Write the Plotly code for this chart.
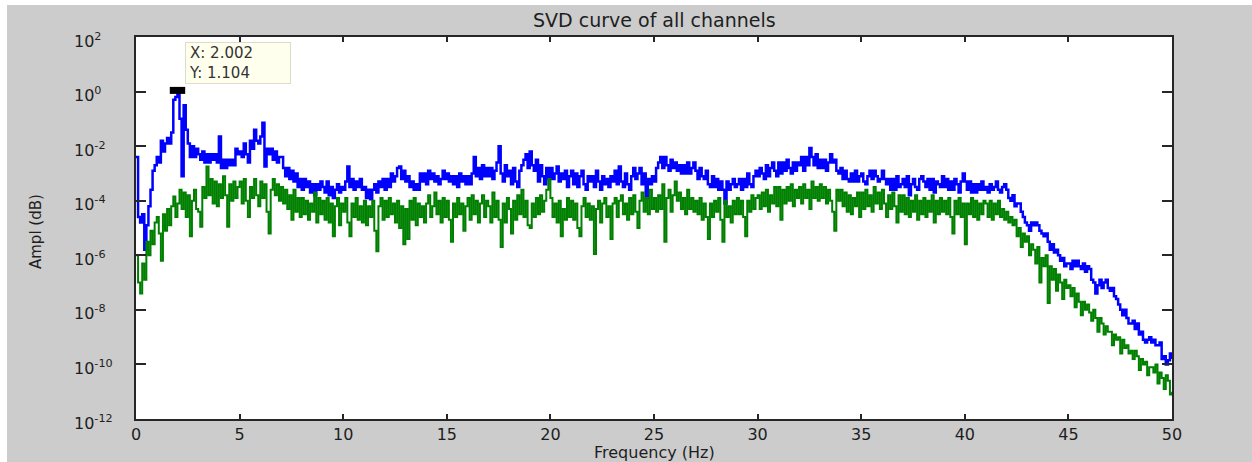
import plotly.graph_objects as go

# ---------------- data ----------------
freq_step = 0.1
freq_hz = [round(i * freq_step, 1) for i in range(501)]

# log10 of amplitude, blue curve, 0.0 .. 50.0 Hz every 0.1 Hz
blue_log10 = [
    -2.4, -4.6, -4.8, -4.5, -5.8, -4.9, -4.2, -3.6, -2.9, -2.7,
    -2.4, -2.6, -1.8, -2.2, -1.9, -1.7, -1.9, -1.5, -0.3, -0.2,
    0.04, -1.0, -3.1, -0.5, -1.4, -1.9, -2.4, -2.0, -2.4, -2.1,
    -2.3, -2.5, -2.2, -2.6, -2.3, -2.6, -2.3, -2.5, -2.3, -2.6,
    -1.65, -2.8, -2.5, -2.8, -2.5, -2.7, -2.5, -2.7, -2.1, -2.3,
    -2.2, -2.4, -1.9, -2.3, -2.6, -1.8, -2.1, -1.4, -1.8, -1.9,
    -1.65, -1.14, -2.75, -2.1, -2.3, -2.1, -2.5, -2.2, -2.6, -2.4,
    -2.4, -2.8, -3.1, -2.8, -3.2, -2.9, -3.3, -3.0, -3.5, -3.2,
    -3.6, -3.2, -3.5, -3.3, -3.7, -3.4, -3.8, -3.4, -3.6, -3.3,
    -3.5, -3.7, -3.3, -3.8, -3.5, -3.9, -3.6, -3.4, -3.7, -3.5,
    -3.6, -3.3, -2.75, -3.5, -3.2, -3.6, -3.3, -3.5, -3.2, -3.6,
    -3.5, -3.9, -3.6, -3.95, -3.6, -3.4, -3.7, -3.3, -3.5, -3.2,
    -3.6, -3.2, -3.5, -3.0, -3.3, -3.1, -2.8, -2.75, -3.2, -2.9,
    -3.3, -3.1, -3.5, -3.3, -3.6, -3.4, -3.6, -3.0, -3.3, -3.0,
    -3.4, -2.9, -3.2, -3.0, -3.3, -3.1, -3.4, -3.2, -2.9, -3.2,
    -3.0, -3.3, -3.1, -3.4, -3.1, -3.5, -3.0, -3.3, -3.1, -3.4,
    -3.1, -3.4, -3.0, -2.4, -3.1, -2.8, -3.2, -2.7, -3.1, -2.8,
    -3.1, -2.8, -3.2, -2.9, -2.6, -2.0, -3.0, -3.3, -2.7, -3.1,
    -2.9, -3.4, -2.8, -3.3, -3.5, -2.9, -2.7, -2.5, -2.3, -2.8,
    -2.2, -2.7, -2.9, -2.5, -3.3, -2.7, -3.1, -3.4, -2.8, -3.2,
    -2.8, -3.2, -3.0, -2.75, -3.3, -3.0, -3.2, -2.9, -3.5, -3.1,
    -2.9, -3.4, -3.0, -3.5, -3.1, -2.9, -3.4, -3.6, -3.1, -3.3,
    -3.1, -3.5, -2.9, -3.3, -3.6, -3.1, -3.4, -3.2, -3.5, -3.1,
    -3.3, -2.9, -3.4, -2.75, -3.3, -3.5, -3.0, -3.4, -3.6, -3.1,
    -2.8, -3.2, -3.0, -2.8, -3.4, -3.0, -3.9, -3.2, -3.4, -3.1,
    -3.3, -2.8, -2.6, -2.4, -2.8, -2.4, -2.7, -2.9, -2.5, -2.8,
    -2.6, -2.9, -2.7, -3.0, -2.7, -3.0, -2.6, -3.0, -2.8, -2.6,
    -2.9, -3.2, -2.8, -3.1, -3.2, -2.9, -3.4, -3.5, -3.1, -3.5,
    -3.2, -3.6, -3.3, -3.6, -4.1, -3.3, -3.6, -3.4, -3.2, -3.5,
    -3.4, -3.2, -3.6, -3.2, -3.5, -3.0, -3.4, -3.5, -3.1, -2.9,
    -3.1, -2.8, -3.0, -3.2, -2.7, -3.1, -2.8, -2.6, -2.9, -3.1,
    -2.6, -3.0, -2.6, -2.9, -2.5, -2.8, -3.0, -2.6, -2.9, -2.6,
    -2.7, -2.4, -2.9, -2.4, -2.7, -2.07, -2.4, -2.7, -2.3, -2.8,
    -2.5, -2.8, -2.5, -2.9, -2.6, -2.3, -2.6, -2.5, -2.9, -3.0,
    -2.8, -3.2, -2.9, -3.2, -3.3, -3.0, -3.3, -2.9, -3.3, -3.1,
    -3.0, -3.3, -3.4, -3.1, -2.9, -3.2, -2.9, -3.1, -3.3, -3.2,
    -2.9, -3.2, -3.4, -3.2, -3.6, -3.2, -3.6, -3.1, -3.5, -3.4,
    -3.2, -3.5, -3.1, -3.8, -3.4, -3.2, -3.5, -3.6, -3.2, -3.1,
    -3.3, -3.5, -3.2, -3.6, -3.2, -3.7, -3.3, -3.4, -3.5, -3.1,
    -3.5, -3.2, -3.6, -3.3, -3.6, -3.2, -3.4, -3.7, -3.3, -3.0,
    -3.3, -3.6, -3.3, -3.7, -3.4, -3.7, -3.4, -3.6, -3.3, -3.6,
    -3.5, -3.7, -3.4, -3.6, -3.5, -3.3, -3.6, -3.7, -3.5, -3.4,
    -3.6, -3.9, -4.0, -3.8, -4.2, -4.1, -4.1, -4.4, -4.6, -4.8,
    -4.9, -5.1, -4.8, -4.9, -4.8, -4.9, -5.1, -5.2, -5.3, -5.2,
    -5.5, -5.8, -5.6, -5.9, -5.8, -6.0, -6.2, -6.1, -6.4, -6.3,
    -6.3, -6.5, -6.2, -6.4, -6.2, -6.4, -6.5, -6.3, -6.6, -6.4,
    -6.5, -6.9, -7.0, -7.4, -7.1, -6.9, -7.2, -7.0, -6.9, -7.2,
    -7.3, -7.2, -7.5, -7.6, -7.8, -8.0, -8.2, -8.0, -8.3, -8.5,
    -8.5, -8.4, -8.7, -8.5, -8.9, -8.8, -9.1, -9.2, -9.1, -9.0,
    -9.2, -9.1, -9.3, -9.3, -9.2, -9.8, -9.7, -10.0, -9.85, -9.6,
    -9.8,
]

# log10 of amplitude, green curve
green_log10 = [
    -6.0, -7.0, -7.4, -6.3, -6.9, -5.5, -6.0, -5.1, -5.6, -4.8,
    -4.6, -5.2, -6.2, -4.5, -5.1, -4.3, -4.9, -4.2, -3.85, -4.6,
    -4.1, -3.6, -4.3, -3.7, -4.6, -3.8, -5.3, -4.0, -3.6, -4.3,
    -4.4, -4.95, -3.5, -3.9, -2.75, -3.8, -3.2, -4.1, -3.3, -4.2,
    -3.4, -3.9, -3.1, -3.8, -4.95, -3.4, -4.0, -3.3, -3.9, -3.5,
    -3.3, -4.1, -3.2, -4.0, -4.6, -3.5, -3.9, -3.2, -3.8, -4.2,
    -3.3, -3.9, -3.4, -4.4, -5.2, -3.6, -3.2, -3.8, -3.4, -4.0,
    -3.5, -4.1, -3.6, -4.3, -3.8, -4.7, -3.6, -4.4, -3.9, -4.6,
    -3.9, -4.5, -4.0, -4.7, -4.1, -4.4, -3.7, -4.8, -3.9, -4.5,
    -4.0, -4.7, -3.9, -4.8, -4.1, -5.3, -4.2, -3.9, -4.9, -4.1,
    -4.4, -3.9, -4.8, -5.3, -4.1, -4.6, -3.9, -4.7, -4.2, -4.8,
    -4.0, -4.9, -4.2, -4.6, -4.0, -5.1, -5.85, -4.2, -3.9, -4.7,
    -4.0, -4.6, -3.9, -4.5, -4.1, -4.8, -4.0, -5.0, -4.2, -5.6,
    -4.3, -5.4, -4.0, -4.7, -3.9, -4.9, -4.1, -4.6, -4.2, -4.8,
    -4.1, -3.8, -4.6, -4.2, -3.7, -4.5, -4.0, -4.8, -3.9, -4.6,
    -4.0, -4.7, -5.5, -4.1, -4.6, -3.9, -4.5, -4.1, -5.1, -4.2,
    -3.9, -4.7, -3.8, -4.5, -4.0, -4.8, -4.1, -3.8, -4.6, -4.0,
    -4.2, -4.8, -3.7, -4.6, -4.0, -4.7, -5.7, -4.1, -4.8, -3.9,
    -4.3, -5.2, -4.0, -4.7, -3.8, -4.5, -3.6, -4.6, -4.0, -4.9,
    -5.0, -4.1, -4.6, -3.9, -4.5, -3.8, -4.4, -4.0, -3.6, -3.2,
    -3.9, -4.6, -4.1, -4.8, -4.0, -5.3, -4.3, -4.7, -3.9, -4.6,
    -4.0, -4.7, -4.1, -5.0, -5.3, -4.2, -3.9, -4.6, -4.1, -4.7,
    -4.2, -5.95, -4.3, -4.0, -4.8, -4.1, -3.9, -4.6, -4.2, -5.4,
    -4.1, -3.9, -4.6, -4.0, -3.8, -4.5, -4.1, -4.7, -3.9, -4.5,
    -3.8, -4.4, -5.0, -4.0, -3.7, -4.4, -3.9, -4.5, -3.6, -4.3,
    -3.9, -4.4, -3.8, -4.3, -3.4, -5.5, -3.9, -3.6, -4.4, -3.8,
    -3.3, -4.0, -3.7, -4.3, -3.9, -4.5, -3.6, -4.3, -3.9, -4.4,
    -4.0, -4.5, -3.9, -4.7, -4.1, -4.6, -5.4, -4.1, -4.6, -4.0,
    -4.4, -3.9, -4.7, -5.5, -4.0, -4.6, -4.2, -4.8, -4.0, -4.5,
    -3.9, -4.5, -4.0, -4.6, -5.3, -4.0, -4.4, -3.8, -4.3, -3.9,
    -3.8, -4.3, -3.7, -4.2, -3.6, -4.4, -3.8, -4.1, -3.5, -4.2,
    -3.5, -4.7, -3.6, -4.1, -3.5, -4.0, -3.4, -4.2, -3.6, -3.9,
    -3.5, -4.1, -3.4, -3.9, -3.6, -4.3, -3.3, -3.9, -3.5, -4.0,
    -3.4, -3.9, -3.5, -4.1, -3.6, -4.0, -4.4, -5.1, -3.6, -4.0,
    -3.6, -4.2, -3.7, -4.4, -3.8, -4.5, -3.9, -4.2, -3.7, -4.6,
    -3.7, -4.3, -3.6, -4.2, -3.8, -4.4, -3.5, -4.1, -3.7, -4.3,
    -3.6, -4.1, -4.6, -3.8, -4.3, -3.7, -4.2, -4.8, -3.8, -4.4,
    -3.8, -4.5, -3.9, -4.6, -4.0, -4.4, -3.8, -4.7, -4.0, -4.5,
    -3.9, -4.6, -4.0, -4.4, -3.8, -4.8, -4.0, -4.5, -3.9, -4.4,
    -4.0, -4.5, -3.9, -4.6, -5.2, -4.0, -4.5, -3.9, -4.6, -4.1,
    -5.6, -4.1, -4.5, -3.9, -4.6, -4.0, -4.7, -4.1, -4.5, -4.0,
    -4.1, -4.6, -4.0, -4.7, -4.1, -4.5, -4.0, -4.6, -4.3, -4.7,
    -4.4, -4.8, -4.6, -4.9, -4.7, -5.3, -5.0, -5.7, -5.2, -5.5,
    -5.3, -6.0, -5.6, -5.8, -6.3, -5.7, -7.0, -6.1, -6.4, -6.0,
    -7.75, -6.4, -6.9, -6.5, -7.3, -6.7, -7.0, -7.6, -6.9, -7.2,
    -7.1, -7.5, -7.2, -7.9, -7.4, -7.7, -8.2, -7.7, -8.0, -7.8,
    -8.1, -8.4, -8.0, -8.3, -8.8, -8.3, -8.5, -8.9, -8.6, -8.8,
    -8.8, -9.3, -8.9, -9.1, -9.0, -9.6, -9.1, -9.4, -9.3, -9.6,
    -9.5, -9.8, -9.5, -9.7, -10.2, -9.8, -10.0, -9.9, -10.4, -10.1,
    -10.1, -10.3, -10.0, -10.7, -10.3, -10.5, -10.9, -10.4, -10.6, -11.1,
    -11.0,
]

blue_amp = [10 ** v for v in blue_log10]
green_amp = [10 ** v for v in green_log10]

# data tip
tip_x = 2.002
tip_y = 1.104

x_ticks = [0, 5, 10, 15, 20, 25, 30, 35, 40, 45, 50]
y_tick_exp = [2, 0, -2, -4, -6, -8, -10, -12]

# ---------------- layout constants (pixels) ----------------
W, H = 1252, 462
L, R, T, B = 136, 1172, 37, 419
PW, PH = R - L, B - T

def px_x(px):
    return (px - L) / PW

def px_y(py):
    return (B - py) / PH

FONT = "DejaVu Sans"
TXT = "#1e1e1e"

fig = go.Figure()
fig.add_trace(go.Scatter(x=freq_hz, y=blue_amp, mode="lines", line_shape="hv",
                         line=dict(color="#0000FF", width=2.5), showlegend=False,
                         hoverinfo="skip"))
fig.add_trace(go.Scatter(x=freq_hz, y=green_amp, mode="lines", line_shape="hv",
                         line=dict(color="#008000", width=2), showlegend=False,
                         hoverinfo="skip"))
# data-tip marker
fig.add_trace(go.Scatter(x=[tip_x], y=[tip_y], mode="markers", showlegend=False,
                         hoverinfo="skip",
                         marker=dict(symbol="line-ew", size=11,
                                     line=dict(color="black", width=7))))

annotations = []
# data-tip box
annotations.append(dict(x=tip_x, y=0.043, xref="x", yref="y",
                        text="X: 2.002<br>Y: 1.104", showarrow=False,
                        xanchor="left", yanchor="bottom", xshift=8, yshift=6,
                        align="left", width=98, height=34,
                        bgcolor="#FFFFEE", bordercolor="#DCDCC8",
                        borderwidth=1, borderpad=3,
                        font=dict(family=FONT, size=15, color="#333333")))
# y tick labels (left aligned like the reference)
for e in y_tick_exp:
    annotations.append(dict(x=px_x(72), y=e, xref="paper", yref="y",
                            text="10<sup>%d</sup>" % e, showarrow=False,
                            xanchor="left", yanchor="middle", yshift=-3,
                            font=dict(family=FONT, size=16, color=TXT)))
# axis titles
annotations.append(dict(x=0.5, y=px_y(452), xref="paper", yref="paper",
                        text="Frequency (Hz)", showarrow=False,
                        xanchor="center", yanchor="middle",
                        font=dict(family=FONT, size=16, color=TXT)))
annotations.append(dict(x=px_x(36), y=px_y(232), xref="paper", yref="paper",
                        text="Ampl (dB)", showarrow=False, textangle=-90,
                        xanchor="center", yanchor="middle",
                        font=dict(family=FONT, size=15, color=TXT)))
annotations.append(dict(x=0.5, y=px_y(20), xref="paper", yref="paper",
                        text="SVD curve of all channels", showarrow=False,
                        xanchor="center", yanchor="middle",
                        font=dict(family=FONT, size=19, color=TXT)))

shapes = [
    dict(type="rect", xref="paper", yref="paper", x0=px_x(0), x1=px_x(W),
         y0=px_y(5), y1=px_y(0), fillcolor="white", line=dict(width=0), layer="below"),
    dict(type="rect", xref="paper", yref="paper", x0=px_x(0), x1=px_x(7),
         y0=px_y(H), y1=px_y(0), fillcolor="white", line=dict(width=0), layer="below"),
]

fig.update_layout(
    width=W, height=H,
    margin=dict(l=L, r=W - R, t=T, b=H - B, pad=0),
    paper_bgcolor="#CCCCCC", plot_bgcolor="white",
    annotations=annotations, shapes=shapes,
    font=dict(family=FONT, color=TXT),
)
fig.update_xaxes(range=[0, 50], tickmode="array", tickvals=x_ticks,
                 ticktext=[str(v) for v in x_ticks],
                 ticks="inside", ticklen=5, tickwidth=1.5, tickcolor="#262626",
                 showline=True, linecolor="#262626", linewidth=1.5, mirror="ticks",
                 showgrid=False, zeroline=False,
                 tickfont=dict(family=FONT, size=16, color=TXT))
fig.update_yaxes(type="log", range=[-12, 2], tickmode="array",
                 tickvals=[10 ** e for e in y_tick_exp], showticklabels=False,
                 ticks="inside", ticklen=10, tickwidth=1.5, tickcolor="#262626",
                 showline=True, linecolor="#262626", linewidth=1.5, mirror="ticks",
                 showgrid=False, zeroline=False)

fig.write_html("out.html")
